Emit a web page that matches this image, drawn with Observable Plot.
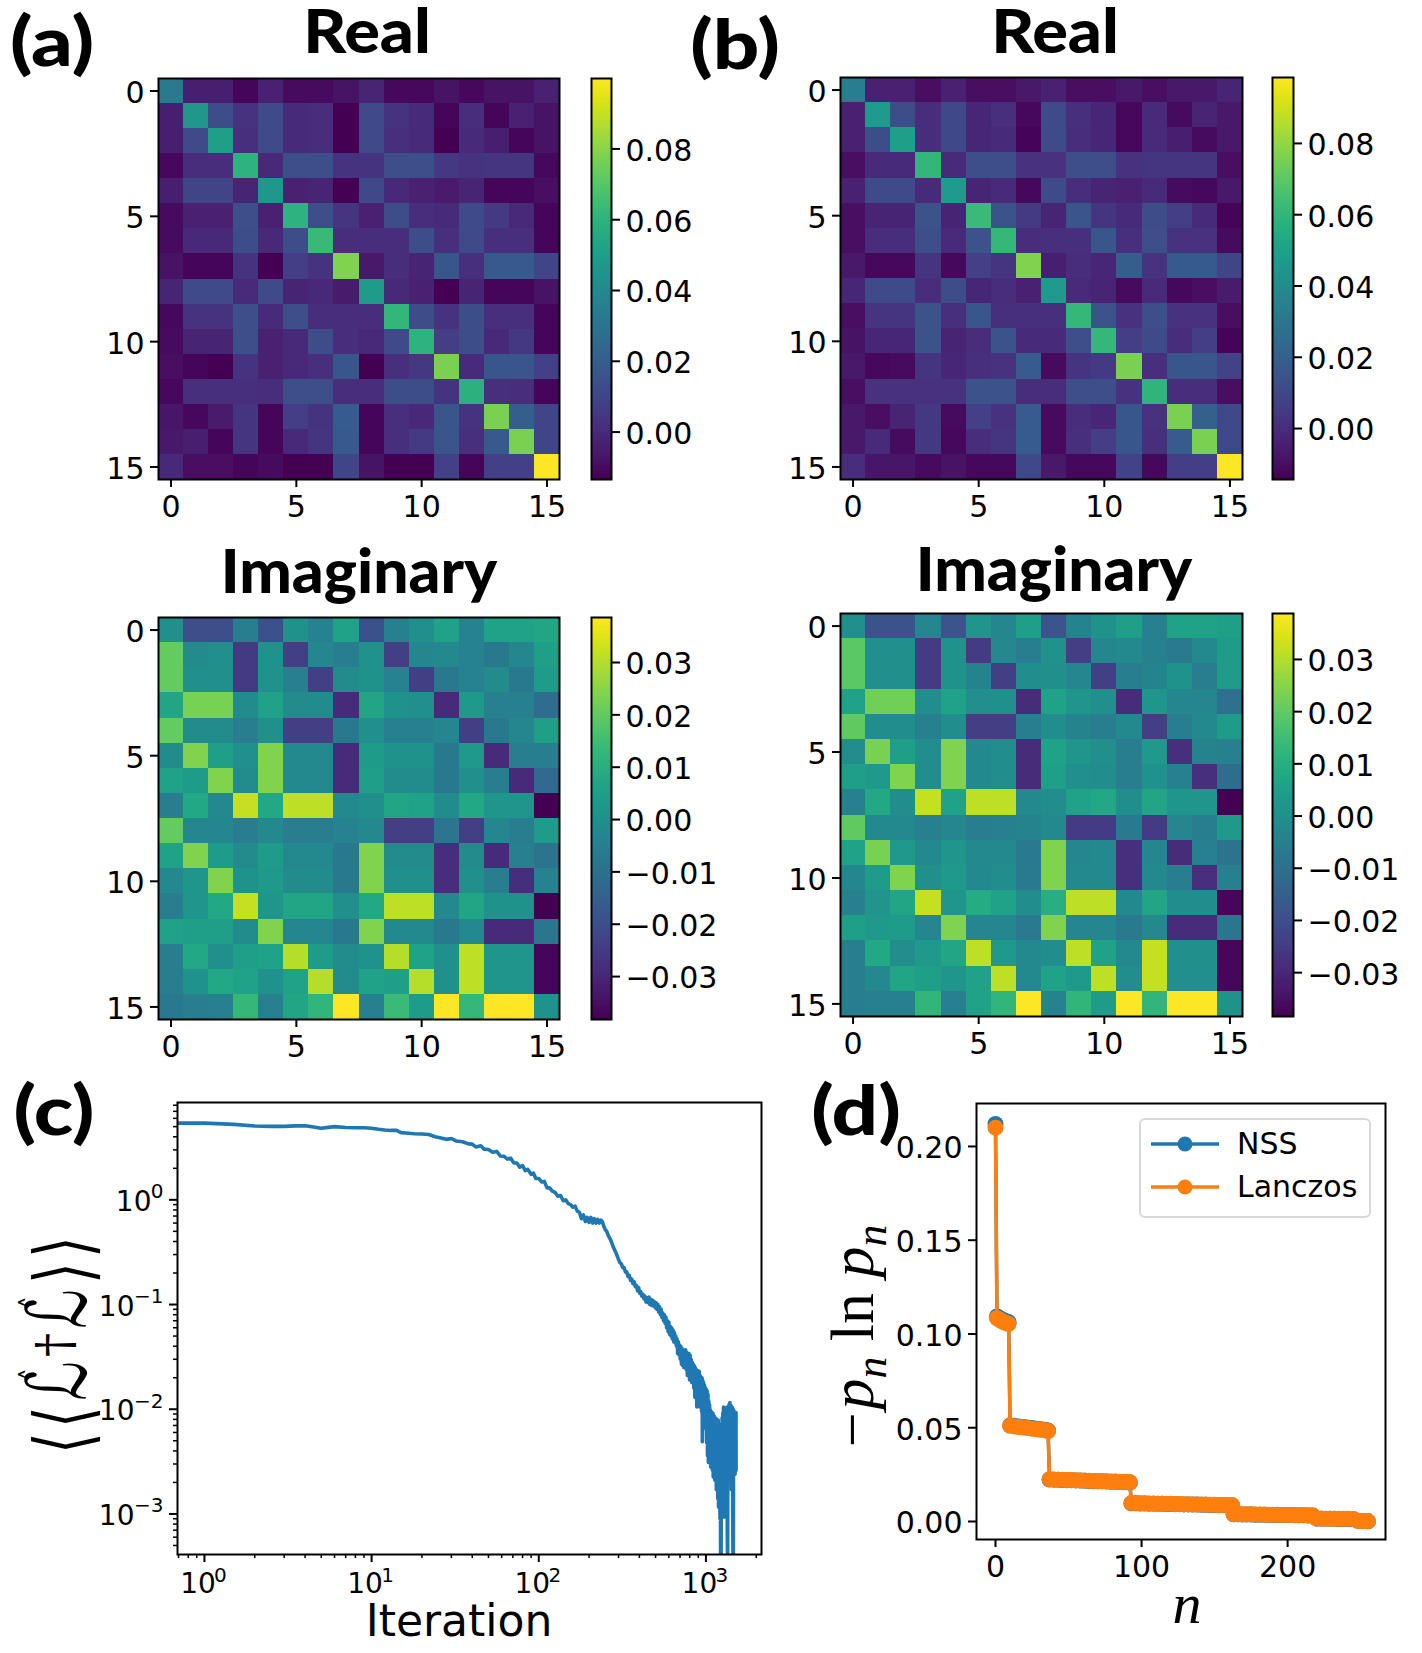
<!DOCTYPE html>
<html>
<head>
<meta charset="utf-8">
<script src="https://cdn.jsdelivr.net/npm/d3@7"></script>
<script src="https://cdn.jsdelivr.net/npm/@observablehq/plot@0.6"></script>
<style>
  html, body { margin: 0; padding: 0; background: white; }
  #page { position: relative; width: 1422px; height: 1653px; overflow: hidden; }
  .lab { position: absolute; line-height: 1; white-space: nowrap; color: black; transform: translate(-50%, -50%); }
  .bold { font-family: "Lato"; font-weight: 900; }
  .panel { font-size: 68px; transform: translate(-50%, -50%) scaleX(1.2); }
  .title { font-size: 60px; }
  .math { font-family: "Liberation Serif"; font-style: italic; }
  .math sub { font-size: 0.7em; line-height: 0; }
  .math b { font-style: normal; font-weight: normal; }
  .bra { display: inline-block; width: 26px; text-align: center; font: 62px "DejaVu Sans"; transform: scaleY(1.25) scaleX(.9); }
  .ell { display: inline-flex; justify-content: center; position: relative; top: -6px; font: 64px "DejaVu Sans"; width: 46px; transform: scale(.85, 1.3); }
  .ell i { position: absolute; left: 24px; top: 4px; font: normal 28px "DejaVu Sans"; }
  .dag { display: inline-block; font: 48px "DejaVu Serif"; width: 26px; position: relative; top: -14px; text-align: center; }
  #legend { position: absolute; left: 1139px; top: 1118px; width: 228px; height: 96px; border: 2.5px solid #d8d8d8; border-radius: 6px; background: white;
            font: 30px "DejaVu Sans"; }
  #legend div { position: absolute; left: 96px; line-height: 1; }
  #legend svg { position: absolute; left: 8px; }
</style>
</head>
<body>
<div id="page"></div>
<script>
const realA = [
  [.033,-.004,-.004,-.012,-.003,-.010,-.010,-.008,-.002,-.011,-.011,-.008,-.011,-.008,-.008,-.003],
  [-.004,.047,.013,.003,.012,.000,.001,-.013,.012,.003,.000,-.012,.001,-.012,-.003,-.008],
  [-.004,.012,.050,.002,.012,.000,.001,-.013,.012,.002,.000,-.013,.000,-.004,-.012,-.008],
  [-.011,.001,.001,.060,-.001,.014,.014,.003,.003,.014,.014,.005,.003,.004,.004,-.011],
  [-.004,.010,.010,-.002,.047,-.003,-.002,-.013,.011,-.001,-.003,-.005,-.002,-.012,-.012,-.009],
  [-.010,-.003,-.003,.014,-.003,.060,.014,.004,-.003,.013,.001,.000,.012,.006,-.001,-.012],
  [-.010,-.001,-.001,.013,-.001,.013,.063,.001,.001,.001,.013,.002,.012,.002,.002,-.012],
  [-.008,-.012,-.012,.003,-.013,.007,.003,.078,-.006,.001,-.002,.017,.002,.018,.018,.010],
  [-.002,.012,.012,.000,.012,-.002,-.001,-.005,.049,-.001,-.003,-.013,-.002,-.012,-.012,-.008],
  [-.011,.003,.003,.014,.000,.014,.001,.001,.001,.061,.013,.003,.013,.002,.002,-.012],
  [-.010,-.002,-.002,.014,-.003,-.001,.013,.001,-.001,.012,.060,.007,.013,-.001,.005,-.012],
  [-.009,-.012,-.013,.003,-.003,-.001,.002,.017,-.013,.002,.005,.077,.000,.017,.016,.008],
  [-.011,.002,.002,.002,.001,.014,.014,.001,.001,.013,.013,.003,.059,.002,.001,-.012],
  [-.007,-.011,-.005,.004,-.012,.007,.003,.019,-.012,.002,-.001,.016,.003,.077,.020,.010],
  [-.006,-.004,-.012,.004,-.012,-.001,.004,.018,-.012,.002,.006,.016,.002,.018,.077,.010],
  [-.001,-.009,-.009,-.012,-.010,-.013,-.013,.010,-.008,-.013,-.013,.008,-.012,.008,.008,.0996]
];
const imagA = [
  [.000,-.020,-.020,-.006,-.019,.001,-.004,.006,-.019,-.005,.000,.006,-.004,.006,.006,.007],
  [.020,-.001,.000,-.025,.001,-.024,-.003,-.006,.001,-.024,-.003,-.002,-.004,-.007,-.003,.005],
  [.020,.000,.000,-.025,.001,-.005,-.024,-.001,.001,-.004,-.024,-.007,-.004,-.001,-.007,.004],
  [.007,.023,.023,-.001,.006,-.001,-.001,-.029,.007,.001,.000,-.029,.003,-.005,-.005,-.011],
  [.020,-.001,-.001,-.006,.000,-.024,-.024,-.007,.000,-.005,-.005,-.003,-.024,-.007,-.003,.005],
  [-.001,.024,.005,.000,.024,-.002,-.002,-.029,.004,.001,.001,-.007,.003,-.029,-.006,-.006],
  [.006,.004,.024,-.001,.024,-.002,-.002,-.029,.005,-.001,-.001,-.007,.000,-.006,-.029,-.012],
  [-.006,.008,-.002,.032,.008,.031,.031,-.002,.000,.007,.006,-.001,.008,.002,.002,-.0385],
  [.020,-.003,-.003,-.006,-.002,-.006,-.006,-.004,-.002,-.024,-.024,-.008,-.024,-.003,-.006,.004],
  [.006,.024,.004,-.001,.004,-.002,-.002,-.007,.024,-.001,-.001,-.028,-.001,-.029,-.005,-.009],
  [-.002,.002,.024,.001,.003,-.001,-.001,-.007,.024,.000,.000,-.028,.000,-.006,-.028,-.004],
  [-.006,.002,.008,.032,.002,.007,.007,.000,.008,.031,.031,-.002,.007,.001,.001,-.038],
  [.006,.005,.005,-.001,.024,-.003,-.003,-.007,.024,-.002,-.002,-.007,-.002,-.029,-.029,-.008],
  [-.006,.008,.000,.005,.006,.030,.004,-.001,.001,.030,.006,.000,.031,.002,.002,-.037],
  [-.006,.001,.008,.006,.001,.006,.030,-.001,.006,.005,.030,.000,.031,.002,.002,-.037],
  [-.007,-.006,-.005,.013,-.005,.007,.012,.0385,-.005,.014,.004,.0385,.013,.0385,.0385,.001]
];
const realB = [
  [.033,-.004,-.004,-.010,-.004,-.010,-.010,-.007,-.004,-.010,-.010,-.007,-.010,-.007,-.007,-.003],
  [-.004,.047,.012,.000,.010,-.002,.001,-.012,.011,.001,-.002,-.012,-.001,-.011,-.003,-.007],
  [-.004,.012,.049,.000,.010,-.002,-.001,-.013,.011,.000,-.002,-.012,-.001,-.005,-.011,-.007],
  [-.010,-.001,-.001,.060,-.001,.013,.013,.002,.002,.013,.013,.002,.003,.003,.003,-.010],
  [-.004,.011,.011,-.001,.047,-.003,-.001,-.012,.011,.000,-.003,-.004,-.001,-.011,-.012,-.007],
  [-.010,-.003,-.003,.014,-.003,.062,.014,.005,-.003,.015,.003,-.001,.012,.006,-.001,-.013],
  [-.010,.000,.000,.013,-.001,.014,.061,.000,.001,.001,.016,.001,.013,.002,.002,-.011],
  [-.007,-.012,-.012,.003,-.012,.007,.003,.077,-.005,.000,-.002,.019,.002,.017,.017,.009],
  [-.002,.011,.011,.000,.012,-.002,.000,-.004,.047,-.001,-.003,-.011,-.001,-.012,-.010,-.006],
  [-.010,.003,.003,.014,.001,.016,.001,.001,.001,.061,.014,.002,.013,.002,.002,-.010],
  [-.009,-.002,-.002,.014,-.003,.000,.014,-.001,-.001,.013,.061,.006,.011,.000,.006,-.013],
  [-.007,-.012,-.011,.003,-.002,.001,.002,.018,-.011,.003,.005,.076,.001,.016,.016,.008],
  [-.010,.002,.002,.002,.002,.014,.014,.000,.000,.013,.013,.002,.059,.000,.000,-.010],
  [-.007,-.010,-.003,.004,-.011,.007,.002,.018,-.011,.000,-.002,.016,.002,.076,.020,.010],
  [-.007,-.001,-.011,.004,-.012,.000,.003,.018,-.011,.001,.006,.016,.001,.018,.076,.010],
  [.000,-.008,-.008,-.011,-.009,-.012,-.012,.010,-.007,-.012,-.012,.008,-.012,.006,.006,.0985]
];
const imagB = [
  [.000,-.019,-.019,-.003,-.018,.002,-.003,.005,-.018,-.004,.001,.005,-.005,.006,.006,.005],
  [.019,.000,.000,-.025,.001,-.025,-.002,-.006,.001,-.024,-.003,-.002,-.005,-.007,-.002,.004],
  [.019,.000,.000,-.025,.001,-.004,-.024,-.001,.000,-.003,-.024,-.006,-.004,.001,-.006,.004],
  [.006,.022,.022,-.001,.006,.000,.000,-.029,.006,.002,.000,-.029,.002,-.003,-.003,-.010],
  [.020,-.001,-.001,-.005,-.001,-.024,-.024,-.006,-.001,-.004,-.006,-.002,-.024,-.006,-.002,.004],
  [-.001,.023,.005,-.001,.024,-.002,-.001,-.029,.006,.002,.000,-.006,.003,-.028,-.004,-.005],
  [.005,.003,.024,-.001,.024,-.002,-.001,-.029,.005,.000,-.001,-.006,.001,-.005,-.028,-.011],
  [-.005,.008,-.001,.032,.006,.031,.031,-.002,-.001,.006,.008,-.001,.007,.002,.002,-.0385],
  [.020,-.002,-.002,-.005,-.003,-.006,-.005,-.004,-.002,-.025,-.025,-.007,-.025,-.003,-.006,.003],
  [.006,.023,.003,-.002,.002,-.002,-.002,-.007,.024,-.003,-.002,-.028,-.003,-.029,-.005,-.009],
  [-.003,.004,.024,.000,.003,-.002,-.001,-.007,.024,-.002,-.002,-.028,-.002,-.006,-.028,-.005],
  [-.005,.002,.007,.032,.002,.009,.006,-.001,.010,.031,.031,-.002,.007,-.001,-.001,-.037],
  [.005,.003,.004,-.003,.024,-.003,-.003,-.007,.024,-.003,-.003,-.007,-.002,-.029,-.029,-.008],
  [-.006,.008,-.001,.003,.007,.031,.003,-.002,-.001,.031,.006,-.002,.032,.000,.000,-.037],
  [-.006,-.002,.007,.005,.002,.006,.031,-.002,.006,.003,.031,-.001,.032,.000,.000,-.037],
  [-.006,-.005,-.005,.012,-.005,.006,.012,.0385,-.004,.012,.004,.0385,.012,.0385,.0385,.001]
];

const cellTicks = [0, 5, 10, 15];
const realTicks = [0, .02, .04, .06, .08];
const imagTicks = [-.03, -.02, -.01, 0, .01, .02, .03];

const iterations = [0.7,1,1.5,2,2.5,3,3.5,4,4.5,5,5.5,6,7,8,9,10,11,12,13,14,15,16,18,20,22,24,26,28,30,32,35,38,40,42,45,47,50,53,56,59,62,65,68,71,74,77,80,83,86,90,93,96,100,104,108,112,116,120,125,130,135,140,145,150,155,160,165,170,175,180,185,190,195,200,205,210,215,220,225,230,235,240,245,250,255,260,270,280,290,
  300,306,312,318,324,330,336,342,348,354,360,366,372,378,384,390,396,402,408,414,420,426,432,438,444,450,456,462,468,474,480,486,492,498,504,510,516,522,528,534,540,546,552,558,564,570,576,582,588,594,600,606,612,618,624,630,636,642,648,654,
  660,666,672,678,684,690,696,702,708,714,720,726,732,738,744,750,756,762,768,774,780,786,792,798,804,810,816,822,828,834,840,846,852,858,864,870,876,882,888,894,900,906,912,918,924,930,936,942,948,952,956,962,968,974,980,986,992,998,
  1004,1010,1016,1022,1028,1034,1040,1046,1052,1058,1064,1070,1076,1082,1088,1094,1100,1106,1112,1118,1124,1130,1136,1142,1148,1154,1160,1166,1172,1178,1184,1190,1196,1202,1208,1214,1220,1224,1228,1232,1238,1244,1250,1256,1262,1268,1274,1282,1288,1294,1300,1306,1312,1318,1324,1330,1336,1342,1348,1354,1360,1366,1372,1378,1384,1392,1398,1404,1410,1416,1422,1428,1434,1440,1446,1452,1458,1464,1470,1476,1482,1488,1494,1500,1506,1513,1515];
const loss = [5.4,5.4,5.25,5.07,5.03,5.03,5.08,5.1,4.95,4.83,4.92,5.0,4.9,4.88,4.88,4.83,4.72,4.65,4.6,4.62,4.38,4.35,4.28,4.25,4.2,4.0,3.9,3.78,3.85,3.65,3.58,3.42,3.4,3.2,3.28,3.05,3.02,2.85,2.9,2.62,2.6,2.45,2.5,2.25,2.25,2.05,2.12,1.9,1.95,1.75,1.8,1.6,1.6,1.48,1.5,1.3,1.3,1.22,1.18,1.08,1.1,.98,1.0,.92,.9,.85,.87,.78,.76,.66,.72,.62,.68,.61,.68,.6,.66,.6,.65,.6,.64,.62,.56,.52,.5,.46,.41,.35,.31,
  .27,.25,.245,.225,.225,.205,.205,.185,.19,.17,.175,.158,.165,.148,.152,.135,.145,.128,.133,.12,.125,.113,.12,.106,.116,.104,.118,.1,.112,.098,.11,.097,.106,.093,.104,.09,.1,.085,.095,.08,.09,.075,.083,.07,.08,.066,.076,.06,.07,.055,.068,.052,.062,.05,.06,.047,.057,.044,.054,.043,
  .05,.04,.047,.034,.044,.033,.041,.03,.04,.027,.038,.026,.037,.025,.036,.029,.037,.024,.035,.021,.033,.023,.034,.019,.033,.021,.03,.018,.028,.02,.027,.016,.026,.013,.025,.015,.024,.0105,.0235,.012,.022,.014,.023,.0105,.021,.013,.02,.0095,.02,.0049,.019,.01,.018,.008,.017,.009,.016,.0065,
  .0155,.0048,.015,.0036,.014,.0031,.012,.0042,.011,.0033,.0098,.0028,.0095,.0037,.0091,.0026,.0092,.00225,.0088,.0032,.0085,.0021,.0079,.0026,.0082,.0017,.0078,.0022,.0075,.0014,.0079,.00116,.0068,.0016,.0072,.0009,.0066,.0003,.0062,.00035,.007,.0012,.0083,.0015,.0092,.0011,.0105,.00093,.0095,.0018,.0088,.0014,.0098,.0024,.0092,.0013,.0105,.0007,.0003,.0085,.0022,.0104,.0028,.0112,.0025,.0116,.0026,.0102,.0021,.0108,.0017,.0098,.0024,.0104,.0011,.0003,.0003,.0099,.0028,.0095,.0026,.0092,.0024,.0093,.0026,.0093,.0026];

const nIndex = [0,1,2,3,4,5,6,7,8,9,
  10,13,16,19,22,25,28,31,34,36,
  37,40,43,46,49,52,55,58,61,64,67,70,73,76,79,82,85,88,91,92,
  93,96,99,102,105,108,111,114,117,120,123,126,129,132,135,138,141,144,147,150,153,156,159,162,
  163,166,169,172,175,178,181,184,187,190,193,196,199,202,205,208,211,214,217,
  220,223,226,229,232,235,238,241,245,
  248,250,252,254,255];
const nssValues = [.2120,.1093,.1088,.1083,.1079,.1075,.1071,.1068,.1065,.1063,
  .0513,.0510,.0507,.0504,.0501,.0498,.0495,.0492,.0489,.0485,
  .0224,.0223,.0222,.0221,.0220,.0220,.0219,.0218,.0217,.0216,.0215,.0215,.0214,.0213,.0212,.0212,.0211,.0210,.0209,.0208,
  .0097,.0097,.0096,.0096,.0095,.0095,.0094,.0094,.0093,.0093,.0092,.0092,.0091,.0091,.0090,.0090,.0089,.0089,.0088,.0088,.0087,.0087,.0086,.0086,
  .0038,.0038,.0037,.0037,.0037,.0036,.0036,.0036,.0035,.0035,.0035,.0034,.0034,.0034,.0033,.0033,.0033,.0032,.0032,
  .0015,.0015,.0014,.0014,.0014,.0013,.0013,.0013,.0012,
  .0004,.0003,.0002,.0002,.0001];
const lanczosValues = [.2100,.1085,.1080,.1075,.1070,.1066,.1062,.1059,.1056,.1054,
  .0510,.0507,.0504,.0501,.0498,.0495,.0492,.0489,.0486,.0482,
  .0225,.0224,.0223,.0222,.0221,.0221,.0220,.0219,.0218,.0217,.0216,.0216,.0215,.0214,.0213,.0213,.0212,.0211,.0210,.0209,
  .0098,.0098,.0097,.0097,.0096,.0096,.0095,.0095,.0094,.0094,.0093,.0093,.0092,.0092,.0091,.0091,.0090,.0090,.0089,.0089,.0088,.0088,.0087,.0087,
  .0039,.0039,.0038,.0038,.0038,.0037,.0037,.0037,.0036,.0036,.0036,.0035,.0035,.0035,.0034,.0034,.0034,.0033,.0033,
  .0016,.0016,.0015,.0015,.0015,.0014,.0014,.0014,.0013,
  .0004,.0003,.0002,.0002,.0002];

const blue = "#1f77b4", orange = "#ff7f0e";
const page = document.getElementById("page");
const fontStyle = {fontSize: "30px", fontFamily: "DejaVu Sans", color: "black", background: "none", overflow: "visible"};

function place(el, left, top) {
  el.style.position = "absolute";
  el.style.left = left + "px";
  el.style.top = top + "px";
  page.appendChild(el);
}

function label(html, x, y, cls, extra = "") {
  const d = document.createElement("div");
  d.className = "lab " + cls;
  d.innerHTML = html;
  d.style.cssText = `left:${x}px;top:${y}px;${extra}`;
  page.appendChild(d);
}

// ticks and tick labels apart, the labels sit a bit lower than Plot's default
const yAxis = ({ticks, tickFormat, anchor = "left"}) => [
  Plot.axisY({anchor, ticks, tickSize: 8, strokeWidth: 2, text: null, label: null}),
  Plot.axisY({anchor, ticks, tickFormat, tickSize: 0, tickPadding: 14, dy: 2.3, label: null})
];
const xAxis = ({ticks, tickFormat}) => Plot.axisX({ticks, tickFormat, tickSize: 8, tickPadding: 8, strokeWidth: 2, label: null});

// heatmap and its colourbar are two separate plots, put at frame position
function heatmap(matrix, domain, x0, x1, y0, y1) {
  const m = {l: 70, r: 4, t: 4, b: 50};
  const idx = d3.range(16);
  const cells = matrix.flatMap((row, r) => row.map((v, c) => ({r, c, v})));
  const plot = Plot.plot({
    width: x1 - x0 + m.l + m.r,
    height: y1 - y0 + m.t + m.b,
    marginLeft: m.l, marginRight: m.r, marginTop: m.t, marginBottom: m.b,
    style: fontStyle,
    x: {type: "band", domain: idx, padding: 0, round: false},
    y: {type: "band", domain: idx, padding: 0, round: false},
    color: {type: "linear", scheme: "viridis", domain, clamp: true},
    marks: [
      Plot.cell(cells, {x: "c", y: "r", fill: "v", shapeRendering: "crispEdges"}),
      xAxis({ticks: cellTicks}),
      yAxis({ticks: cellTicks}),
      Plot.frame({stroke: "black", strokeWidth: 2})
    ]
  });
  place(plot, x0 - m.l, y0 - m.t);
}

function colorbar(domain, ticks, x0, x1, y0, y1) {
  const m = {l: 4, r: 120, t: 4, b: 4};
  const step = (domain[1] - domain[0]) / 256;
  const levels = d3.range(256).map(i => domain[0] + i * step);
  const plot = Plot.plot({
    width: x1 - x0 + m.l + m.r,
    height: y1 - y0 + m.t + m.b,
    marginLeft: m.l, marginRight: m.r, marginTop: m.t, marginBottom: m.b,
    style: fontStyle,
    y: {domain},
    color: {type: "linear", scheme: "viridis", domain},
    marks: [
      Plot.rect(levels, {y1: d => d, y2: d => d + step, fill: d => d, shapeRendering: "crispEdges"}),
      yAxis({anchor: "right", ticks, tickFormat: d3.format(".2f")}),
      Plot.frame({stroke: "black", strokeWidth: 2})
    ]
  });
  place(plot, x0 - m.l, y0 - m.t);
}

heatmap(realA, [-.0134, .0999], 158, 559, 78, 479);
colorbar([-.0134, .0999], realTicks, 591, 611, 78, 479);
heatmap(imagA, [-.0382, .0386], 158, 559, 617, 1019);
colorbar([-.0382, .0386], imagTicks, 591, 611, 617, 1019);
heatmap(realB, [-.0143, .0985], 840, 1242, 77, 479);
colorbar([-.0143, .0985], realTicks, 1272, 1293, 77, 479);
heatmap(imagB, [-.0384, .0388], 840, 1242, 613, 1016);
colorbar([-.0384, .0388], imagTicks, 1272, 1293, 613, 1016);

// panel c
const exponents = {"-3": "−3", "-2": "−2", "-1": "−1", "0": "0", "1": "1", "2": "2", "3": "3"};
const exponent = d => exponents[Math.round(Math.log10(d))];
const minors = (lo, hi) => d3.range(lo, hi).flatMap(k => d3.range(2, 10).map(j => j * 10 ** k));
const lossRows = iterations.map((it, i) => ({it, v: loss[i]}));
{
  const m = {l: 120, r: 10, t: 4, b: 60};
  const base = {tickSize: 0, label: null};
  const plot = Plot.plot({
    width: 761 - 177 + m.l + m.r,
    height: 1554 - 1102 + m.t + m.b,
    marginLeft: m.l, marginRight: m.r, marginTop: m.t, marginBottom: m.b,
    style: fontStyle,
    x: {type: "log", domain: [0.69, 2150]},
    y: {type: "log", domain: [4.1e-4, 8.5]},
    marks: [
      Plot.line(lossRows, {x: "it", y: "v", stroke: blue, strokeWidth: 3.6, clip: true}),
      Plot.axisX({ticks: minors(-1, 4).filter(d => d > 0.69 && d < 2150), tickSize: 4, strokeWidth: 1.5, text: null, label: null}),
      Plot.axisY({ticks: minors(-4, 1).filter(d => d > 4.1e-4 && d < 8.5), tickSize: 4, strokeWidth: 1.5, text: null, label: null}),
      Plot.axisX({ticks: [1, 10, 100, 1000], tickSize: 8, strokeWidth: 2, text: null, label: null}),
      Plot.axisY({ticks: [1, .1, .01, .001], tickSize: 8, strokeWidth: 2, text: null, label: null}),
      Plot.axisX({...base, ticks: [1, 10, 100, 1000], tickFormat: () => "10", tickPadding: 19, dx: -6.5, fontSize: 28}),
      Plot.axisX({...base, ticks: [1, 10, 100, 1000], tickFormat: exponent, tickPadding: 13, dx: 16, fontSize: 20}),
      Plot.axisY({...base, ticks: [1], tickFormat: () => "10", tickPadding: 14, dx: -12, dy: 2, fontSize: 28}),
      Plot.axisY({...base, ticks: [.1, .01, .001], tickFormat: () => "10", tickPadding: 14, dx: -29, dy: 2, fontSize: 28}),
      Plot.axisY({...base, ticks: [1, .1, .01, .001], tickFormat: exponent, tickPadding: 14, dy: -8, fontSize: 20}),
      Plot.frame({stroke: "black", strokeWidth: 2})
    ]
  });
  place(plot, 177 - m.l, 1102 - m.t);
}

// panel d
const entropyRows = nIndex.map((n, i) => ({n, nss: nssValues[i], lanczos: lanczosValues[i]}));
{
  const m = {l: 120, r: 10, t: 4, b: 60};
  const plot = Plot.plot({
    width: 1385 - 976 + m.l + m.r,
    height: 1539 - 1103 + m.t + m.b,
    marginLeft: m.l, marginRight: m.r, marginTop: m.t, marginBottom: m.b,
    style: fontStyle,
    x: {domain: [-13, 267]},
    y: {domain: [-.0096, .2229]},
    marks: [
      Plot.line(entropyRows, {x: "n", y: "nss", stroke: blue, strokeWidth: 3.5}),
      Plot.dot(entropyRows, {x: "n", y: "nss", fill: blue, r: 8}),
      Plot.line(entropyRows, {x: "n", y: "lanczos", stroke: orange, strokeWidth: 3.5}),
      Plot.dot(entropyRows, {x: "n", y: "lanczos", fill: orange, r: 8}),
      xAxis({ticks: [0, 100, 200]}),
      yAxis({ticks: [0, .05, .1, .15, .2], tickFormat: d3.format(".2f")}),
      Plot.frame({stroke: "black", strokeWidth: 2})
    ]
  });
  place(plot, 976 - m.l, 1103 - m.t);
}

// legend of panel d
const legend = document.createElement("div");
legend.id = "legend";
legend.innerHTML = [["NSS", blue, 12], ["Lanczos", orange, 55]].map(([name, col, top]) =>
  `<svg width="72" height="24" style="top:${top}px"><line x1="2" x2="70" y1="12" y2="12" stroke="${col}" stroke-width="3.5"/><circle cx="36" cy="12" r="7.5" fill="${col}"/></svg>` +
  `<div style="top:${top - 3}px">${name}</div>`).join("");
page.appendChild(legend);

// titles and panel letters
label("(a)", 52, 40, "bold panel");
label("(b)", 735, 43, "bold panel");
label("(c)", 54, 1109, "bold panel");
label("(d)", 856, 1109, "bold panel");
const wide = k => `transform:translate(-50%,-50%) scaleX(${k});`;
label("Real", 367, 30, "bold title", wide(1.11));
label("Real", 1055, 30, "bold title", wide(1.11));
label("Imaginary", 359, 570, "bold title", wide(1.04));
label("Imaginary", 1054, 568, "bold title", wide(1.04));
label("Iteration", 459, 1620, "", 'font: 44px "DejaVu Sans";');
label("n", 1187, 1604, "math", "font-size:58px;");
const ell = '<span class="ell">ℒ<i>ˆ</i></span>';
label(`<span class="bra">⟨</span><span class="bra">⟨</span>${ell}<span class="dag">†</span>${ell}<span class="bra">⟩</span><span class="bra">⟩</span>`,
  63, 1345, "", "transform: translate(-50%,-50%) rotate(-90deg);");
label("−p<sub>n</sub> <b>ln</b> p<sub>n</sub>", 852, 1338, "math", "font-size:62px;transform:translate(-50%,-50%) rotate(-90deg);");
</script>
</body>
</html>
